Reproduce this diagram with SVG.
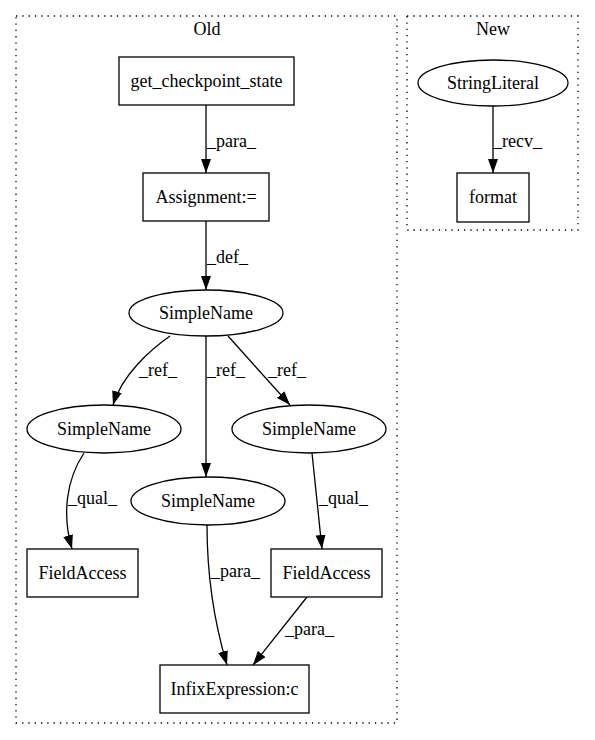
<svg xmlns="http://www.w3.org/2000/svg" width="595" height="740" viewBox="0 0 595 740">
<style>
text{font-family:"Liberation Serif","Times New Roman",serif;font-size:18px;fill:#000}
.c{text-anchor:middle}
.node{fill:none;stroke:#000;stroke-width:1.3}
.cluster{fill:none;stroke:#000;stroke-width:1.3;stroke-dasharray:1.3,5}
.edge{fill:none;stroke:#000;stroke-width:1.3;marker-end:url(#arr)}
</style>
<defs>
<marker id="arr" viewBox="0 0 14 10" refX="14" refY="5" markerWidth="14" markerHeight="10" markerUnits="userSpaceOnUse" orient="auto">
<path d="M0,0 L14,5 L0,10 z" fill="#000"/>
</marker>
</defs>
<rect width="595" height="740" fill="#fff"/>
<g id="cluster_old">
<rect class="cluster" x="16" y="16" width="381" height="707"/>
<text class="c" x="207" y="35">Old</text>
</g>
<g id="cluster_new">
<rect class="cluster" x="407" y="16" width="171" height="214"/>
<text class="c" x="493" y="35">New</text>
</g>
<g id="edges">
<path class="edge" d="M206,105 L206,173"/>
<text x="207" y="147">_para_</text>
<path class="edge" d="M206,221 L206,290"/>
<text x="207" y="263">_def_</text>
<path class="edge" d="M170,336 C150,350 122,375 113,405"/>
<text x="139" y="376">_ref_</text>
<path class="edge" d="M206,336 L206,477"/>
<text x="207" y="376">_ref_</text>
<path class="edge" d="M228,336 L290,405"/>
<text x="268" y="376">_ref_</text>
<path class="edge" d="M84,453 C66,480 62,515 72,549"/>
<text x="68" y="504">_qual_</text>
<path class="edge" d="M312,453 L322,549"/>
<text x="319" y="504">_qual_</text>
<path class="edge" d="M207,525 C207,580 215,625 227,665"/>
<text x="211" y="577">_para_</text>
<path class="edge" d="M307,597 L253,665"/>
<text x="285" y="635">_para_</text>
<path class="edge" d="M493,106 L493,173"/>
<text x="493" y="147">_recv_</text>
</g>
<g id="n_get_checkpoint_state">
<rect class="node" x="119" y="57" width="175" height="48"/>
<text class="c" x="206.5" y="87">get_checkpoint_state</text>
</g>
<g id="n_assignment">
<rect class="node" x="143" y="173" width="126" height="48"/>
<text class="c" x="206" y="203">Assignment:=</text>
</g>
<g id="n_simplename_top">
<ellipse class="node" cx="206" cy="313" rx="77" ry="23"/>
<text class="c" x="206" y="319">SimpleName</text>
</g>
<g id="n_simplename_left">
<ellipse class="node" cx="104" cy="429" rx="77" ry="24"/>
<text class="c" x="104" y="435">SimpleName</text>
</g>
<g id="n_simplename_right">
<ellipse class="node" cx="309" cy="429" rx="77" ry="24"/>
<text class="c" x="309" y="435">SimpleName</text>
</g>
<g id="n_simplename_mid">
<ellipse class="node" cx="208" cy="501" rx="77" ry="24"/>
<text class="c" x="208" y="507">SimpleName</text>
</g>
<g id="n_fieldaccess_left">
<rect class="node" x="27" y="549" width="111" height="48"/>
<text class="c" x="82.5" y="579">FieldAccess</text>
</g>
<g id="n_fieldaccess_right">
<rect class="node" x="271" y="549" width="111" height="48"/>
<text class="c" x="326.5" y="579">FieldAccess</text>
</g>
<g id="n_infix">
<rect class="node" x="160" y="665" width="149" height="48"/>
<text class="c" x="234.5" y="695">InfixExpression:c</text>
</g>
<g id="n_stringliteral">
<ellipse class="node" cx="493" cy="83" rx="75" ry="23"/>
<text class="c" x="493" y="89">StringLiteral</text>
</g>
<g id="n_format">
<rect class="node" x="457" y="173" width="72" height="49"/>
<text class="c" x="493" y="203">format</text>
</g>
</svg>
